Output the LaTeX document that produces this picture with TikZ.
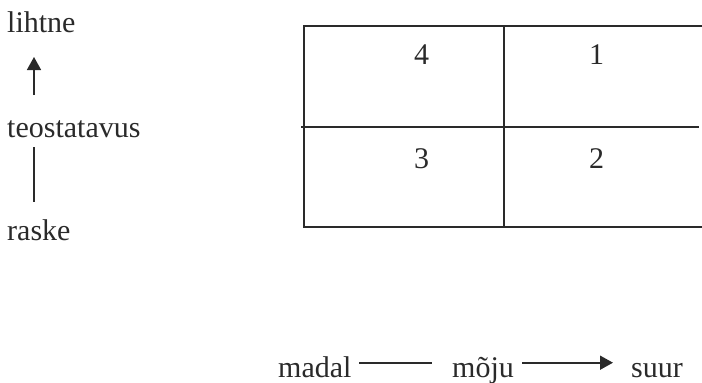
\documentclass[tikz,border=0pt]{standalone}
\usepackage{fontspec}
\setmainfont{Liberation Serif}
\usetikzlibrary{arrows.meta}
\definecolor{ink}{HTML}{2A2A2A}
\tikzset{
  lbl/.style={inner sep=0pt, anchor=base west, text=ink, font=\fontsize{30}{36}\selectfont},
  num/.style={inner sep=0pt, anchor=base, text=ink, font=\fontsize{30}{36}\selectfont},
  gridline/.style={draw=ink, line width=1.6pt},
  arr/.style={draw=ink, line width=1.6pt, -{Triangle[width=14pt,length=13pt]}},
  plain/.style={draw=ink, line width=1.6pt}
}
\begin{document}
\begin{tikzpicture}[x=1pt,y=-1pt]
\useasboundingbox (0,0) rectangle (702,383);
% left labels
\node[lbl] (lihtne) at (7,32) {lihtne};
\node[lbl] (teo) at (7,137) {teostatavus};
\node[lbl] (raske) at (7,240) {raske};
\coordinate (a1) at (34,95);
\coordinate (a2) at (34,57);
\coordinate (b1) at (34,147);
\coordinate (b2) at (34,202);
\draw[arr] (a1) -- (a2);
\draw[plain] (b1) -- (b2);
% grid
\coordinate (tl) at (304,25.7);
\coordinate (tr) at (702,25.7);
\coordinate (bl) at (304,226.7);
\coordinate (br) at (702,226.7);
\coordinate (ml) at (301,126.7);
\coordinate (mr) at (699,126.7);
\coordinate (vt) at (504,25.7);
\coordinate (vb) at (504,226.7);
\draw[gridline] (tr) -- (tl) -- (bl) -- (br);
\draw[gridline] (ml) -- (mr);
\draw[gridline] (vt) -- (vb);
\node[num] (n4) at (421.5,64) {4};
\node[num] (n1) at (596.5,64) {1};
\node[num] (n3) at (421.5,168) {3};
\node[num] (n2) at (596.5,168) {2};
% bottom labels
\node[lbl] (madal) at (278,377) {madal};
\node[lbl] (moju) at (452,377) {mõju};
\node[lbl] (suur) at (631,377) {suur};
\coordinate (c1) at (359,362.7);
\coordinate (c2) at (432,362.7);
\coordinate (d1) at (522,362.7);
\coordinate (d2) at (613,362.7);
\draw[plain] (c1) -- (c2);
\draw[arr] (d1) -- (d2);
\end{tikzpicture}
\end{document}
